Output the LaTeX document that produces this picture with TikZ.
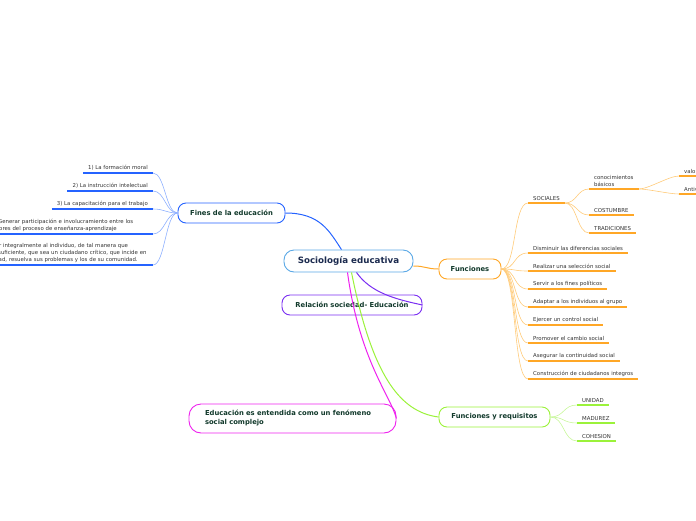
\documentclass[tikz,border=0pt]{standalone}
\usepackage{fontspec}
\setmainfont{DejaVu Sans}
\usetikzlibrary{positioning}
\definecolor{skyline}{HTML}{5AA8E6}
\definecolor{navy}{HTML}{1C2B4F}
\definecolor{pine}{HTML}{11392B}
\definecolor{royal}{HTML}{2563FF}
\definecolor{paleroyal}{HTML}{8DB0FF}
\definecolor{grape}{HTML}{7A2EF2}
\definecolor{tangerine}{HTML}{FFA726}
\definecolor{paletangerine}{HTML}{FFCB7A}
\definecolor{lime}{HTML}{9BF23A}
\definecolor{palelime}{HTML}{C8F79A}
\definecolor{fuchsia}{HTML}{EE22EE}
\definecolor{ink}{HTML}{333333}

\begin{document}
\begin{tikzpicture}[x=1pt,y=-1pt,
    topic/.style={draw,line width=0.9pt,rounded corners=8pt,fill=white,minimum height=20pt,text=pine,font=\fontsize{6.8}{9}\selectfont\bfseries},
    leaf/.style={inner xsep=5pt,inner ysep=2.5pt,text=ink,align=left,font=\fontsize{5.4}{7}\selectfont},
    twig/.style={line width=0.6pt},
    uline/.style={line width=1.5pt}]
  \useasboundingbox (0,0) rectangle (696,520);
  % main topics
  \node[topic,draw=skyline,text=navy,minimum width=129pt,minimum height=22pt,rounded corners=10pt,font=\fontsize{8.7}{10}\selectfont\bfseries] (soc) at (348.5,261) {Sociología educativa};
  \node[topic,draw=royal,minimum width=107pt] (fines) at (231.5,213) {Fines de la educación};
  \node[topic,draw=grape,minimum width=140pt] (rel) at (352,305) {Relación sociedad- Educación};
  \node[topic,draw=tangerine,minimum width=62pt] (fun) at (470,269) {Funciones};
  \node[topic,draw=lime,minimum width=111pt] (req) at (494.5,417) {Funciones y requisitos};
  \node[topic,draw=fuchsia,minimum width=207pt,minimum height=29pt,rounded corners=12pt,text width=175pt,align=left] (edu) at (292.5,418.5) {Educación es entendida como un fenómeno\\social complejo};
  \draw[royal,line width=1pt] (fines.east) .. controls +(35,0) and +(-12,-18) .. ([xshift=-7pt]soc.north);
  \draw[tangerine,line width=1pt] ([yshift=-5pt]soc.east) .. controls +(12,0) and +(-12,0) .. (fun.west);
  \draw[grape,line width=1pt] ([xshift=8pt]soc.south) .. controls +(14,20) and +(-28,-6) .. (rel.east);
  \draw[lime,line width=1pt] ([xshift=3pt]soc.south) .. controls +(20,100) and +(-40,-5) .. (req.west);
  \draw[fuchsia,line width=1pt] ([xshift=-1pt]soc.south) .. controls +(12,88) and +(-6,-23) .. (edu.east);
  % fines
  \foreach \n/\y/\t in {f1/173/{1) La formación moral},f2/191/{2) La instrucción intelectual},f3/209/{3) La capacitación para el trabajo}}
    \node[leaf,anchor=south east] (\n) at (153,\y) {\t};
  \node[leaf,anchor=south east,text width=157pt] (f4) at (153,234) {4) Generar participación e involucramiento entre los\\actores del proceso de enseñanza-aprendizaje};
  \node[leaf,anchor=south east,text width=173pt] (f5) at (153,265) {5) Formar integralmente al individuo, de tal manera que\\sea autosuficiente, que sea un ciudadano crítico, que incide en\\la sociedad, resuelva sus problemas y los de su comunidad.};
  \foreach \n in {f1,f2,f3,f4,f5}{
    \draw[twig,paleroyal] (fines.west) .. controls +(-12,0) and +(12,0) .. (\n.south east);
    \draw[uline,royal] (\n.south west) -- (\n.south east);}
  % funciones
  \node[leaf,anchor=south west] (soci) at (528,203) {SOCIALES};
  \foreach \n/\y/\t in {d1/253/{Disminuir las diferencias sociales},d2/271/{Realizar una selección social},d3/289/{Servir a los fines políticos},d4/307/{Adaptar a los individuos al grupo},d5/325/{Ejercer un control social},d6/343/{Promover el cambio social},d7/361/{Asegurar la continuidad social},d8/379/{Construcción de ciudadanos integros}}
    \node[leaf,anchor=south west] (\n) at (528,\y) {\t};
  \node[leaf,anchor=south west] (conoc) at (589,189) {conocimientos\\básicos};
  \node[leaf,anchor=south west] (cost) at (589,215) {COSTUMBRE};
  \node[leaf,anchor=south west] (trad) at (589,233) {TRADICIONES};
  \node[leaf,anchor=south west] (val) at (679,176) {valores};
  \node[leaf,anchor=south west] (anti) at (679,194) {Antivalores};
  \foreach \n in {soci,d1,d2,d3,d4,d5,d6,d7,d8}
    \draw[twig,paletangerine] (fun.east) .. controls +(15,0) and +(-15,0) .. (\n.south west);
  \foreach \n in {conoc,cost,trad}
    \draw[twig,paletangerine] (soci.south east) .. controls +(12,0) and +(-12,0) .. (\n.south west);
  \foreach \n in {val,anti}
    \draw[twig,paletangerine] (conoc.south east) .. controls +(10,0) and +(-10,0) .. (\n.south west);
  \foreach \n in {soci,d1,d2,d3,d4,d5,d6,d7,d8,conoc,cost,trad,val,anti}
    \draw[uline,tangerine] (\n.south west) -- (\n.south east);
  % requisitos
  \foreach \n/\y/\t in {u1/405/UNIDAD,u2/423/MADUREZ,u3/441/COHESION}{
    \node[leaf,anchor=south west] (\n) at (577,\y) {\t};
    \draw[twig,palelime] (req.east) .. controls +(14,0) and +(-14,0) .. (\n.south west);
    \draw[uline,lime] (\n.south west) -- (\n.south east);}
\end{tikzpicture}
\end{document}
